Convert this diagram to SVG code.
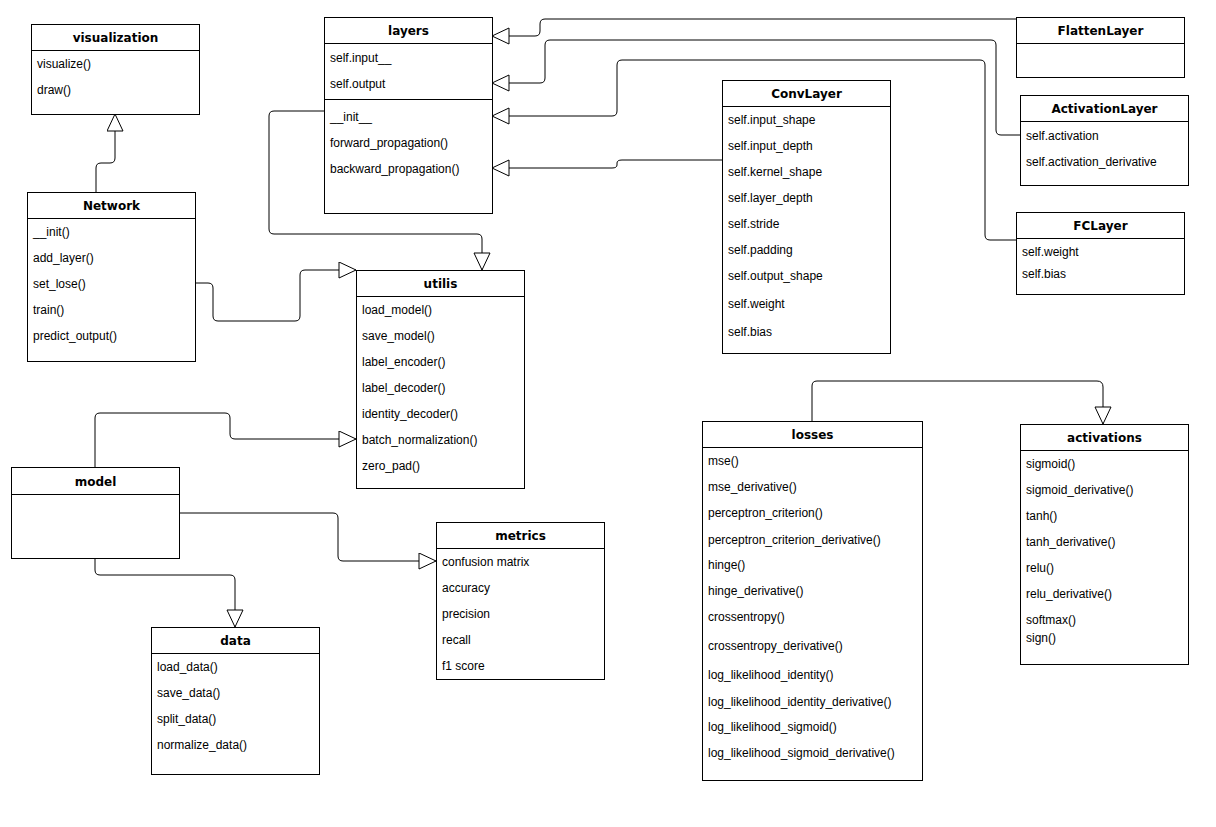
<svg xmlns="http://www.w3.org/2000/svg" width="1216" height="827" viewBox="0 0 1216 827">
<style>
.box{fill:#fff;stroke:#000;stroke-width:1}
.sep{stroke:#000;stroke-width:1}
.t{font-family:"DejaVu Sans",Verdana,sans-serif;font-weight:bold;font-size:12px;text-anchor:middle;fill:#000}
.i{font-family:"Liberation Sans",Arial,sans-serif;font-size:12px;fill:#000}
.c{fill:none;stroke:#000;stroke-width:1}
</style>
<defs>
<marker id="tri" markerWidth="20" markerHeight="20" refX="18" refY="8.5" orient="auto" markerUnits="userSpaceOnUse">
<path d="M1,0.5 L18,8.5 L1,16.5 Z" fill="#fff" stroke="#000" stroke-width="1"/>
</marker>
</defs>
<rect width="1216" height="827" fill="#fff"/>
<g id="connectors">
<path class="c" marker-end="url(#tri)" d="M96,192 L96,168 Q96,163 101,163 L110,163 Q115,163 115,158 L115,114"/>
<path class="c" marker-end="url(#tri)" d="M195,283 L208,283 Q213,283 213,288 L213,316 Q213,321 218,321 L295,321 Q300,321 300,316 L300,275 Q300,270 305,270 L356,270"/>
<path class="c" marker-end="url(#tri)" d="M324,111 L274,111 Q269,111 269,116 L269,229 Q269,234 274,234 L477,234 Q482,234 482,239 L482,270"/>
<path class="c" marker-end="url(#tri)" d="M95,467 L95,418 Q95,413 100,413 L225,413 Q230,413 230,418 L230,434 Q230,439 235,439 L356,439"/>
<path class="c" marker-end="url(#tri)" d="M179,513 L333,513 Q338,513 338,518 L338,556 Q338,561 343,561 L436,561"/>
<path class="c" marker-end="url(#tri)" d="M95,558 L95,570 Q95,575 100,575 L230,575 Q235,575 235,580 L235,627"/>
<path class="c" marker-end="url(#tri)" d="M812,421 L812,386 Q812,381 817,381 L1097,381 Q1103,381 1103,387 L1103,424"/>
<path class="c" marker-end="url(#tri)" d="M1016,19 L545,19 Q540,19 540,24 L540,31 Q540,36 535,36 L492,36"/>
<path class="c" marker-end="url(#tri)" d="M1020,135 L1001,135 Q996,135 996,130 L996,45 Q996,40 991,40 L550,40 Q545,40 545,45 L545,78 Q545,83 540,83 L492,83"/>
<path class="c" marker-end="url(#tri)" d="M1016,240 L990,240 Q985,240 985,235 L985,65 Q985,60 980,60 L622,60 Q617,60 617,65 L617,111 Q617,116 612,116 L492,116"/>
<path class="c" marker-end="url(#tri)" d="M722,160 L622,160 Q617,160 617,163 L617,165 Q617,168 612,168 L492,168"/>
</g>
<g id="visualization">
<rect class="box" x="31.5" y="24.5" width="168" height="90"/>
<line class="sep" x1="31.5" y1="50.5" x2="199.5" y2="50.5"/>
<text class="t" x="115.5" y="41.5">visualization</text>
<text class="i" x="37" y="68">visualize()</text>
<text class="i" x="37" y="94">draw()</text>
</g>
<g id="network">
<rect class="box" x="27.5" y="192.5" width="168" height="169"/>
<line class="sep" x1="27.5" y1="218.5" x2="195.5" y2="218.5"/>
<text class="t" x="111.5" y="209.5">Network</text>
<text class="i" x="33" y="236">__init()</text>
<text class="i" x="33" y="262">add_layer()</text>
<text class="i" x="33" y="288">set_lose()</text>
<text class="i" x="33" y="314">train()</text>
<text class="i" x="33" y="340">predict_output()</text>
</g>
<g id="layers">
<rect class="box" x="324.5" y="17.5" width="168" height="196"/>
<line class="sep" x1="324.5" y1="43.5" x2="492.5" y2="43.5"/>
<line class="sep" x1="324.5" y1="99.5" x2="492.5" y2="99.5"/>
<text class="t" x="408.5" y="34.5">layers</text>
<text class="i" x="330" y="62">self.input__</text>
<text class="i" x="330" y="88">self.output</text>
<text class="i" x="330" y="121">__init__</text>
<text class="i" x="330" y="147">forward_propagation()</text>
<text class="i" x="330" y="173">backward_propagation()</text>
</g>
<g id="utilis">
<rect class="box" x="356.5" y="270.5" width="168" height="218"/>
<line class="sep" x1="356.5" y1="296.5" x2="524.5" y2="296.5"/>
<text class="t" x="440.5" y="287.5">utilis</text>
<text class="i" x="362" y="314">load_model()</text>
<text class="i" x="362" y="340">save_model()</text>
<text class="i" x="362" y="366">label_encoder()</text>
<text class="i" x="362" y="392">label_decoder()</text>
<text class="i" x="362" y="418">identity_decoder()</text>
<text class="i" x="362" y="444">batch_normalization()</text>
<text class="i" x="362" y="470">zero_pad()</text>
</g>
<g id="convlayer">
<rect class="box" x="722.5" y="80.5" width="168" height="273"/>
<line class="sep" x1="722.5" y1="106.5" x2="890.5" y2="106.5"/>
<text class="t" x="806.5" y="97.5">ConvLayer</text>
<text class="i" x="728" y="124">self.input_shape</text>
<text class="i" x="728" y="150">self.input_depth</text>
<text class="i" x="728" y="176">self.kernel_shape</text>
<text class="i" x="728" y="202">self.layer_depth</text>
<text class="i" x="728" y="228">self.stride</text>
<text class="i" x="728" y="254">self.padding</text>
<text class="i" x="728" y="280">self.output_shape</text>
<text class="i" x="728" y="308">self.weight</text>
<text class="i" x="728" y="336">self.bias</text>
</g>
<g id="flattenlayer">
<rect class="box" x="1016.5" y="17.5" width="168" height="60"/>
<line class="sep" x1="1016.5" y1="43.5" x2="1184.5" y2="43.5"/>
<text class="t" x="1100.5" y="34.5">FlattenLayer</text>
</g>
<g id="activationlayer">
<rect class="box" x="1020.5" y="95.5" width="168" height="90"/>
<line class="sep" x1="1020.5" y1="121.5" x2="1188.5" y2="121.5"/>
<text class="t" x="1104.5" y="112.5">ActivationLayer</text>
<text class="i" x="1026" y="140">self.activation</text>
<text class="i" x="1026" y="166">self.activation_derivative</text>
</g>
<g id="fclayer">
<rect class="box" x="1016.5" y="212.5" width="168" height="82"/>
<line class="sep" x1="1016.5" y1="238.5" x2="1184.5" y2="238.5"/>
<text class="t" x="1100.5" y="229.5">FCLayer</text>
<text class="i" x="1022" y="256">self.weight</text>
<text class="i" x="1022" y="278">self.bias</text>
</g>
<g id="model">
<rect class="box" x="11.5" y="467.5" width="168" height="91"/>
<line class="sep" x1="11.5" y1="494.5" x2="179.5" y2="494.5"/>
<text class="t" x="95.5" y="485.5">model</text>
</g>
<g id="data">
<rect class="box" x="151.5" y="627.5" width="168" height="147"/>
<line class="sep" x1="151.5" y1="653.5" x2="319.5" y2="653.5"/>
<text class="t" x="235.5" y="644.5">data</text>
<text class="i" x="157" y="671">load_data()</text>
<text class="i" x="157" y="697">save_data()</text>
<text class="i" x="157" y="723">split_data()</text>
<text class="i" x="157" y="749">normalize_data()</text>
</g>
<g id="metrics">
<rect class="box" x="436.5" y="522.5" width="168" height="157"/>
<line class="sep" x1="436.5" y1="548.5" x2="604.5" y2="548.5"/>
<text class="t" x="520.5" y="539.5">metrics</text>
<text class="i" x="442" y="566">confusion matrix</text>
<text class="i" x="442" y="592">accuracy</text>
<text class="i" x="442" y="618">precision</text>
<text class="i" x="442" y="644">recall</text>
<text class="i" x="442" y="670">f1 score</text>
</g>
<g id="losses">
<rect class="box" x="702.5" y="421.5" width="220" height="359"/>
<line class="sep" x1="702.5" y1="447.5" x2="922.5" y2="447.5"/>
<text class="t" x="812.5" y="438.5">losses</text>
<text class="i" x="708" y="465">mse()</text>
<text class="i" x="708" y="491">mse_derivative()</text>
<text class="i" x="708" y="517">perceptron_criterion()</text>
<text class="i" x="708" y="544">perceptron_criterion_derivative()</text>
<text class="i" x="708" y="569">hinge()</text>
<text class="i" x="708" y="595">hinge_derivative()</text>
<text class="i" x="708" y="621">crossentropy()</text>
<text class="i" x="708" y="650">crossentropy_derivative()</text>
<text class="i" x="708" y="679">log_likelihood_identity()</text>
<text class="i" x="708" y="706">log_likelihood_identity_derivative()</text>
<text class="i" x="708" y="731">log_likelihood_sigmoid()</text>
<text class="i" x="708" y="757">log_likelihood_sigmoid_derivative()</text>
</g>
<g id="activations">
<rect class="box" x="1020.5" y="424.5" width="168" height="240"/>
<line class="sep" x1="1020.5" y1="450.5" x2="1188.5" y2="450.5"/>
<text class="t" x="1104.5" y="441.5">activations</text>
<text class="i" x="1026" y="468">sigmoid()</text>
<text class="i" x="1026" y="494">sigmoid_derivative()</text>
<text class="i" x="1026" y="520">tanh()</text>
<text class="i" x="1026" y="546">tanh_derivative()</text>
<text class="i" x="1026" y="572">relu()</text>
<text class="i" x="1026" y="598">relu_derivative()</text>
<text class="i" x="1026" y="624">softmax()</text>
<text class="i" x="1026" y="642">sign()</text>
</g>
</svg>
